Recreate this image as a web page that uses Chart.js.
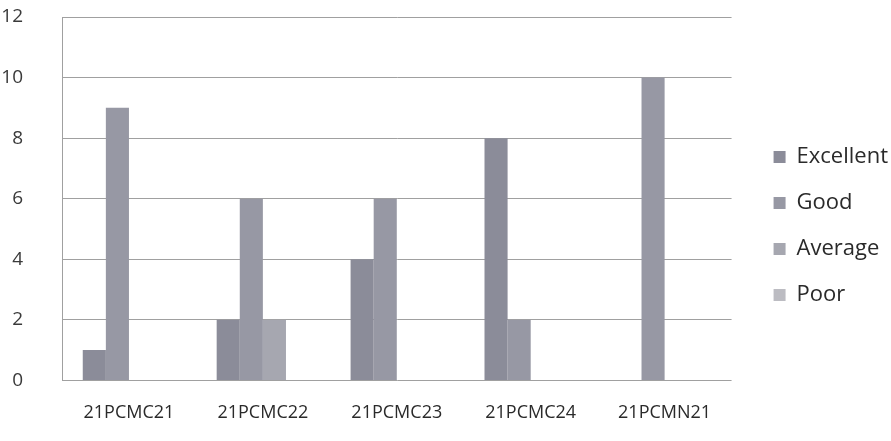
<!DOCTYPE html>
<html lang="en">
<head>
    <meta charset="UTF-8">
    <title>Course outcome grades</title>
    <script src="https://cdn.jsdelivr.net/npm/chart.js"></script>
    <style>
        body {
            margin: 0;
            background: #fff;
        }

        .wrap {
            width: 891px;
            height: 441px;
        }
    </style>
</head>
<body>
    <div class="wrap">
        <canvas id="myChart" width="891" height="441"></canvas>
    </div>

    <script>
        const courses = ['21PCMC21', '21PCMC22', '21PCMC23', '21PCMC24', '21PCMN21'];
        const excellent = [1, 2, 4, 8, 0];
        const good = [9, 6, 6, 2, 10];
        const average = [0, 2, 0, 0, 0];
        const poor = [0, 0, 0, 0, 0];
        const yTicks = [0, 2, 4, 6, 8, 10, 12];

        const gridGray = '#a0a0a0';
        const fontFamily = '"Open Sans", "Noto Sans", sans-serif';

        const ctx = document.getElementById('myChart').getContext('2d');

        const chart = new Chart(ctx, {
            type: 'bar',
            data: {
                labels: courses,
                datasets: [{
                    label: 'Excellent',
                    data: excellent,
                    backgroundColor: '#8b8c99'
                }, {
                    label: 'Good',
                    data: good,
                    backgroundColor: '#9798a4'
                }, {
                    label: 'Average',
                    data: average,
                    backgroundColor: '#a6a7b0'
                }, {
                    label: 'Poor',
                    data: poor,
                    backgroundColor: '#bcbcc2'
                }]
            },
            options: {
                responsive: false,
                animation: false,
                categoryPercentage: 0.69,
                barPercentage: 1.0,
                layout: {
                    padding: { top: 0, left: 0, right: -7, bottom: 3 }
                },
                scales: {
                    x: {
                        grid: { display: false },
                        border: { display: false },
                        ticks: {
                            padding: 14,
                            color: '#2a2a2a',
                            font: { family: fontFamily, size: 18 }
                        }
                    },
                    y: {
                        min: 0,
                        max: 12,
                        afterBuildTicks: function (axis) {
                            axis.ticks = yTicks.map(v => ({ value: v }));
                        },
                        // fixed axis width and top offset, like the scan
                        afterFit: function (axis) {
                            axis.width = 62;
                            axis.paddingTop = 17;
                        },
                        grid: {
                            color: gridGray,
                            lineWidth: 1,
                            drawTicks: false
                        },
                        border: { display: true, color: gridGray },
                        ticks: {
                            padding: 39,
                            color: '#3a3a3a',
                            font: { family: fontFamily, size: 19 }
                        }
                    },
                    // empty axis, only keeps a gap between plot and legend
                    gap: {
                        position: 'right',
                        grid: { display: false },
                        border: { display: false },
                        ticks: { display: false },
                        afterFit: function (axis) {
                            axis.width = 18;
                        }
                    }
                },
                plugins: {
                    legend: {
                        position: 'right',
                        // blank title just nudges the items down a little
                        title: {
                            display: true,
                            text: '',
                            padding: 1,
                            font: { size: 10 }
                        },
                        labels: {
                            boxWidth: 12,
                            boxHeight: 12,
                            padding: 24,
                            color: '#2a2a2a',
                            font: { family: fontFamily, size: 22 }
                        }
                    },
                    tooltip: { enabled: false }
                }
            }
        });
    </script>
</body>
</html>
